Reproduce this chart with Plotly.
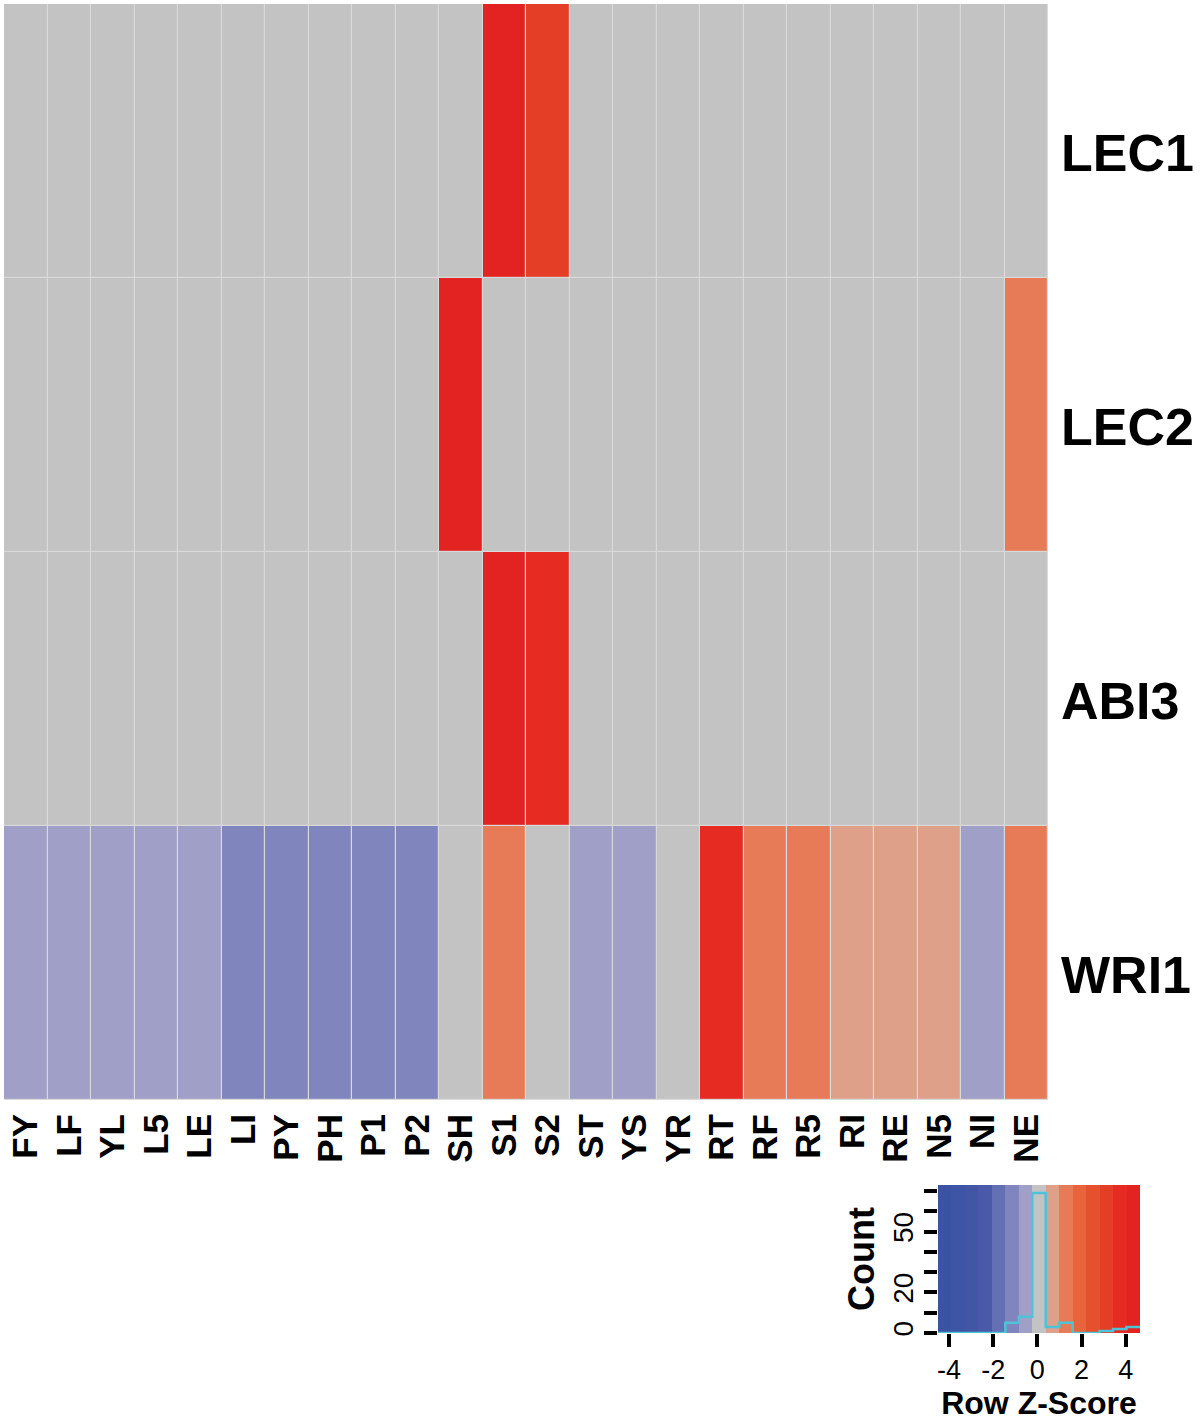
import numpy as np
import plotly.graph_objects as go

columns = ["FY", "LF", "YL", "L5", "LE", "LI", "PY", "PH", "P1", "P2", "SH", "S1",
           "S2", "ST", "YS", "YR", "RT", "RF", "R5", "RI", "RE", "N5", "NI", "NE"]
genes = ["LEC1", "LEC2", "ABI3", "WRI1"]

# Row Z-scores
lec1 = [-0.1] * 11 + [4.3, 3.1] + [-0.1] * 11
lec2 = [-0.1] * 10 + [4.3] + [-0.1] * 12 + [1.3]
abi3 = [-0.1] * 11 + [4.3, 3.7] + [-0.1] * 11
wri1 = [-0.5, -0.5, -0.5, -0.5, -0.5, -1.1, -1.1, -1.1, -1.1, -1.1, 0.1, 1.3,
        0.1, -0.5, -0.5, 0.1, 3.7, 1.3, 1.3, 0.7, 0.7, 0.7, -0.5, 1.3]

# Colour key breaks and bin colours
breaks = [-4.5, -3.89, -3.28, -2.67, -2.06, -1.45, -0.84, -0.23, 0.38, 0.99,
          1.6, 2.21, 2.82, 3.43, 4.04, 4.65]
bin_colors = ["#3a54a4", "#3e55a5", "#4356a6", "#4a5aa8", "#6470b3", "#8185bd",
              "#a09fc8", "#c3c3c3", "#dfa08a", "#e87b57", "#e8643c", "#e5502e",
              "#e53e26", "#e52b22", "#e32222"]
key_xticks = [-4, -2, 0, 2, 4]
count_ticks = [0, 10, 20, 30, 40, 50, 60, 70]
count_labels = ["0", "", "20", "", "", "50", "", ""]

z = [lec1, lec2, abi3, wri1]
zmin, zmax = breaks[0], breaks[-1]
nb = len(bin_colors)
colorscale = []
for i, c in enumerate(bin_colors):
    colorscale.append([i / nb, c])
    colorscale.append([(i + 1) / nb, c])

FONT = "Liberation Sans, Arial, sans-serif"

fig = go.Figure()
fig.add_trace(go.Heatmap(
    z=z, x=columns, y=genes, colorscale=colorscale, zmin=zmin, zmax=zmax,
    showscale=False, xgap=1.2, ygap=1.2, hoverinfo="skip",
    xaxis="x", yaxis="y"))

# Colour key
centers = [(breaks[i] + breaks[i + 1]) / 2 for i in range(nb)]
counts, _ = np.histogram(np.array(z).ravel(), bins=breaks)
fig.add_trace(go.Heatmap(
    z=[centers, centers], x=breaks, y=[0, 36.5, 73], colorscale=colorscale,
    zmin=zmin, zmax=zmax, showscale=False, hoverinfo="skip",
    xaxis="x2", yaxis="y2"))
fig.add_trace(go.Scatter(
    x=breaks, y=list(counts) + [counts[-1]], mode="lines",
    line=dict(color="#4ec3d8", width=2.5, shape="hv"),
    hoverinfo="skip", xaxis="x2", yaxis="y2", showlegend=False))

W, H = 1200, 1421
fig.update_layout(
    width=W, height=H, margin=dict(l=0, r=0, t=0, b=0, autoexpand=False),
    paper_bgcolor="white", plot_bgcolor="#d9d9d9",
    showlegend=False,
    font=dict(family=FONT, color="black"),
    xaxis=dict(domain=[4 / W, 1048 / W], anchor="y", tickangle=-90,
               tickfont=dict(size=35, family=FONT, weight="bold"),
               showgrid=False, zeroline=False, ticks="", ticklabelstandoff=6),
    yaxis=dict(domain=[1 - 1100 / H, 1 - 4 / H], anchor="x", side="right",
               autorange="reversed",
               tickfont=dict(size=52, family=FONT, weight="bold"),
               showgrid=False, zeroline=False, ticks="", ticklabelstandoff=12,
               ticklabelshift=-12),
    xaxis2=dict(domain=[938 / W, 1140 / W], anchor="y2", range=[zmin, zmax],
                tickvals=key_xticks, ticktext=[str(v) for v in key_xticks],
                ticks="outside", ticklen=13, tickwidth=4, tickcolor="black",
                tickfont=dict(size=27, family=FONT), showgrid=False,
                zeroline=False, showline=False,
                title=dict(text="Row Z-Score",
                           font=dict(size=32, family=FONT, weight="bold"),
                           standoff=5)),
    yaxis2=dict(domain=[1 - 1333 / H, 1 - 1185 / H], anchor="x2", range=[0, 73],
                tickvals=count_ticks, ticktext=count_labels, tickangle=-90,
                ticks="outside", ticklen=13, tickwidth=4, tickcolor="black",
                tickfont=dict(size=28, family=FONT), showgrid=False,
                zeroline=False, showline=False,
                title=dict(text="Count",
                           font=dict(size=36, family=FONT, weight="bold"),
                           standoff=2)),
)

fig.write_html("out.html", config={"displayModeBar": False},
               post_script="document.body.style.margin='0';"
                           "document.body.style.overflow='hidden';")
